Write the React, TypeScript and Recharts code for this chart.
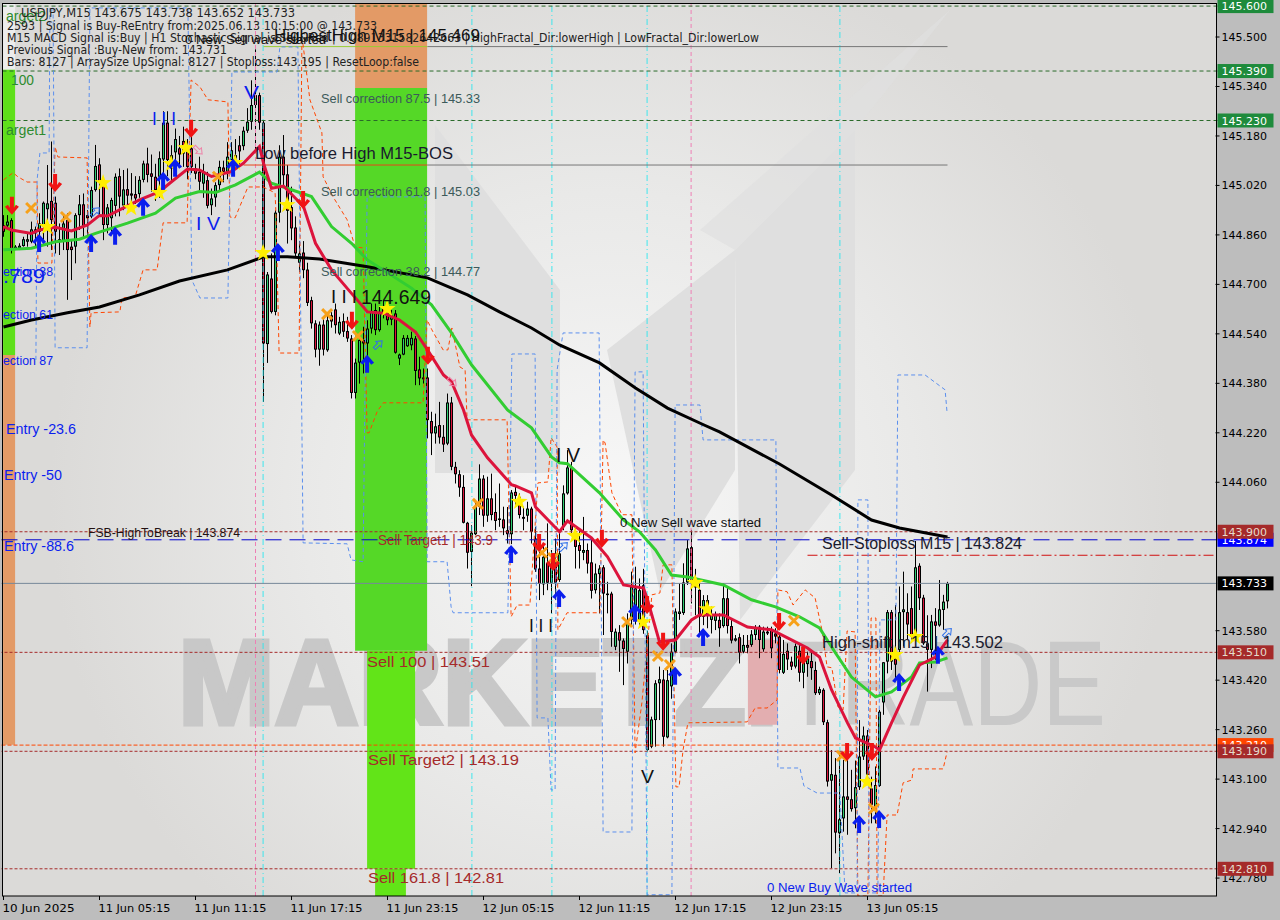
import React from "react";
import {
  ComposedChart,
  Bar,
  Line,
  Scatter,
  XAxis,
  YAxis,
  ReferenceArea,
  ReferenceLine,
} from "recharts";

// USDJPY M15 candles
const opens = [
  144.892,144.890,144.908,144.814,144.817,144.824,144.838,144.838,144.878,144.870,
  144.887,144.943,144.970,144.964,144.838,144.838,144.908,144.822,144.822,144.924,
  144.959,144.924,144.919,145.005,145.088,145.032,144.892,144.914,144.954,145.050,
  144.955,145.008,144.994,144.992,144.992,145.038,145.091,145.059,145.048,145.048,
  145.104,145.223,145.075,145.127,145.140,145.164,145.130,145.140,145.075,145.064,
  145.026,145.037,144.956,144.981,145.021,145.078,145.064,145.102,145.118,145.150,
  145.147,145.197,145.226,145.280,145.312,145.223,144.507,144.719,144.611,144.932,
  145.113,145.056,144.950,144.884,144.770,144.803,144.748,144.649,144.574,144.489,
  144.570,144.487,144.600,144.619,144.541,144.581,144.549,144.525,144.349,144.447,
  144.520,144.509,144.557,144.617,144.552,144.627,144.622,144.586,144.606,144.460,
  144.473,144.500,144.503,144.525,144.425,144.399,144.399,144.258,144.218,144.245,
  144.207,144.185,144.318,144.110,144.086,144.045,143.929,143.835,143.892,143.981,
  144.072,143.952,144.008,143.964,143.943,143.940,143.905,143.892,144.029,144.013,
  143.942,143.952,143.975,143.878,143.781,143.730,143.800,143.735,143.797,143.744,
  143.916,144.024,144.108,143.900,143.857,143.832,143.841,143.801,143.711,143.763,
  143.785,143.700,143.700,143.528,143.575,143.548,143.512,143.615,143.620,143.614,
  143.727,143.566,143.205,143.291,143.410,143.422,143.235,143.400,143.512,143.634,
  143.637,143.736,143.850,143.735,143.712,143.625,143.679,143.615,143.612,143.615,
  143.595,143.685,143.595,143.548,143.559,143.512,143.534,143.534,143.566,143.593,
  143.520,143.577,143.584,143.571,143.561,143.444,143.515,143.480,143.464,143.515,
  143.444,143.472,143.482,143.453,143.378,143.389,143.284,143.095,143.114,142.925,
  142.973,143.044,143.035,143.006,143.074,143.173,143.241,143.070,143.011,143.078,
  143.348,143.480,143.640,143.490,143.518,143.640,143.640,143.653,143.561,143.790,
  143.687,143.539,143.518,143.610,143.597,143.647,143.675,
];
const highs = [
  144.924,144.924,144.914,144.827,144.833,144.854,144.865,144.903,144.887,144.930,
  144.968,145.086,145.162,144.984,144.897,144.930,144.930,144.843,144.930,144.989,
  144.994,144.940,145.016,145.151,145.108,145.043,144.960,144.980,145.059,145.075,
  145.070,145.075,145.060,145.050,145.050,145.100,145.142,145.120,145.090,145.130,
  145.260,145.260,145.150,145.204,145.180,145.210,145.170,145.200,145.090,145.113,
  145.090,145.064,145.010,145.030,145.100,145.100,145.160,145.160,145.170,145.180,
  145.210,145.270,145.360,145.460,145.320,145.230,144.740,144.800,144.940,145.150,
  145.183,145.086,145.016,144.920,144.840,144.840,144.770,144.660,144.584,144.580,
  144.590,144.606,144.610,144.638,144.595,144.606,144.595,144.536,144.460,144.530,
  144.563,144.584,144.638,144.638,144.627,144.649,144.638,144.617,144.617,144.476,
  144.536,144.536,144.547,144.533,144.466,144.428,144.428,144.288,144.282,144.320,
  144.245,144.347,144.336,144.126,144.099,144.083,143.932,143.921,144.002,144.118,
  144.083,144.078,144.088,144.024,144.056,143.981,143.980,144.035,144.045,144.024,
  143.981,143.997,143.981,143.916,143.862,143.862,143.927,143.841,143.878,143.905,
  144.050,144.164,144.126,143.921,143.905,143.948,143.862,143.873,143.797,143.792,
  143.792,143.738,143.706,143.587,143.598,143.555,143.636,143.771,143.787,143.749,
  143.780,143.580,143.302,143.420,143.464,143.453,143.453,143.539,143.652,143.733,
  143.798,143.873,143.906,143.780,143.733,143.695,143.695,143.658,143.642,143.636,
  143.733,143.722,143.615,143.566,143.571,143.566,143.566,143.582,143.598,143.598,
  143.593,143.593,143.593,143.588,143.571,143.550,143.539,143.496,143.539,143.534,
  143.518,143.512,143.518,143.480,143.399,143.394,143.292,143.194,143.168,143.189,
  143.162,143.173,143.130,143.160,143.291,143.270,143.259,143.108,143.141,143.324,
  143.478,143.647,143.647,143.663,143.723,143.771,143.701,143.723,143.870,143.798,
  143.696,143.630,143.631,143.653,143.744,143.696,143.738,
];
const lows = [
  144.854,144.881,144.800,144.811,144.811,144.822,144.822,144.833,144.822,144.811,
  144.843,144.822,144.811,144.800,144.795,144.811,144.650,144.714,144.768,144.876,
  144.849,144.860,144.914,145.000,144.919,144.843,144.865,144.860,144.920,144.920,
  144.940,144.951,144.960,144.960,144.980,145.030,145.030,145.000,144.970,144.980,
  145.030,145.050,145.030,145.086,145.080,145.080,145.040,145.060,145.040,145.000,
  144.980,144.946,144.924,144.951,145.000,145.030,145.040,145.060,145.080,145.090,
  145.134,145.190,145.200,145.130,145.200,144.320,144.446,144.606,144.600,144.900,
  145.016,144.832,144.843,144.790,144.740,144.720,144.630,144.557,144.464,144.437,
  144.470,144.482,144.560,144.541,144.536,144.530,144.514,144.331,144.331,144.379,
  144.412,144.433,144.541,144.536,144.547,144.590,144.568,144.568,144.476,144.439,
  144.471,144.498,144.487,144.374,144.374,144.379,144.202,144.148,144.185,144.185,
  144.158,144.180,144.099,144.056,144.013,143.927,143.781,143.724,143.889,143.954,
  143.916,143.932,143.937,143.905,143.916,143.889,143.862,143.860,143.981,143.943,
  143.905,143.932,143.862,143.770,143.679,143.695,143.711,143.636,143.679,143.738,
  143.905,144.020,143.894,143.781,143.781,143.808,143.765,143.684,143.700,143.636,
  143.566,143.636,143.528,143.517,143.447,143.404,143.474,143.598,143.600,143.593,
  143.570,143.190,143.200,143.205,143.291,143.205,143.232,143.360,143.507,143.615,
  143.631,143.728,143.668,143.630,143.561,143.598,143.588,143.571,143.582,143.528,
  143.590,143.571,143.539,143.545,143.474,143.507,143.507,143.528,143.550,143.491,
  143.512,143.566,143.491,143.539,143.442,143.440,143.453,143.453,143.458,143.415,
  143.394,143.431,143.421,143.372,143.372,143.275,143.076,142.812,142.860,142.796,
  142.930,142.920,142.995,142.941,143.065,143.162,143.098,142.957,142.957,143.075,
  143.308,143.442,143.453,143.426,143.507,143.529,143.550,143.540,143.555,143.647,
  143.534,143.383,143.459,143.486,143.593,143.583,143.652,
];
const closes = [
  144.870,144.903,144.811,144.822,144.825,144.846,144.846,144.878,144.865,144.897,
  144.964,144.962,144.908,144.870,144.846,144.897,144.811,144.811,144.924,144.959,
  144.887,144.914,145.005,145.083,145.032,144.892,144.949,144.973,145.048,144.984,
  145.007,144.987,144.987,144.978,145.038,145.091,145.054,145.048,145.005,145.108,
  145.223,145.102,145.118,145.170,145.120,145.123,145.080,145.080,145.058,145.032,
  145.064,144.954,144.978,145.021,145.080,145.064,145.113,145.134,145.107,145.130,
  145.197,145.226,145.280,145.312,145.223,144.509,144.732,144.611,144.932,145.113,
  145.053,144.938,144.881,144.800,144.800,144.746,144.640,144.574,144.489,144.570,
  144.489,144.584,144.580,144.568,144.579,144.547,144.525,144.349,144.447,144.520,
  144.509,144.557,144.611,144.552,144.611,144.606,144.584,144.600,144.479,144.473,
  144.527,144.527,144.527,144.420,144.396,144.393,144.261,144.218,144.241,144.205,
  144.182,144.318,144.110,144.086,144.043,143.929,143.832,143.897,143.981,144.072,
  143.952,144.008,143.954,143.935,143.938,143.911,143.892,144.027,144.016,143.954,
  143.948,143.975,143.900,143.778,143.731,143.819,143.735,143.787,143.735,143.830,
  144.024,144.108,143.905,143.851,143.838,143.841,143.797,143.709,143.765,143.781,
  143.700,143.698,143.576,143.577,143.548,143.521,143.615,143.722,143.717,143.711,
  143.582,143.194,143.293,143.410,143.423,143.237,143.420,143.512,143.642,143.642,
  143.736,143.846,143.735,143.720,143.625,143.679,143.628,143.631,143.631,143.588,
  143.685,143.595,143.548,143.555,143.509,143.534,143.525,143.568,143.591,143.550,
  143.577,143.571,143.523,143.561,143.453,143.505,143.487,143.464,143.530,143.444,
  143.485,143.491,143.459,143.378,143.391,143.284,143.092,143.116,142.927,142.970,
  143.044,143.033,143.003,143.074,143.173,143.241,143.114,143.017,143.081,143.318,
  143.478,143.640,143.480,143.470,143.640,143.649,143.600,143.561,143.785,143.685,
  143.539,143.518,143.610,143.596,143.649,143.674,143.733,
];

// moving averages, sampled where they bend
const redBars = [0,2,7,9,13,17,21,24,26,29,34,39,42,46,49,52,57,60,64,65,67,70,75,78,82,87,91,95,99,103,106,110,112,115,117,121,127,128,132,133,139,141,147,151,155,160,161,164,168,172,174,178,180,186,192,196,201,204,207,211,213,218,219,222,225,229,233,236];
const redPrices = [144.887,144.876,144.865,144.876,144.885,144.873,144.892,144.923,144.921,144.941,144.973,145.000,145.032,145.073,145.070,145.049,145.065,145.092,145.146,145.092,145.011,145.018,144.952,144.833,144.747,144.671,144.611,144.607,144.585,144.546,144.488,144.407,144.385,144.294,144.213,144.139,144.052,144.048,144.026,143.980,143.900,143.935,143.880,143.819,143.728,143.718,143.680,143.544,143.550,143.615,143.631,143.631,143.631,143.592,143.583,143.557,143.524,143.495,143.389,143.282,143.233,143.204,143.194,143.282,143.366,143.469,143.495,143.550];
const greenBars = [0,7,13,19,23,31,38,43,49,53,58,64,67,72,77,82,87,91,102,107,112,117,126,132,137,139,141,149,155,159,163,167,171,180,187,193,199,204,208,212,218,222,227,229,233,236];
const greenPrices = [144.812,144.817,144.838,144.846,144.865,144.898,144.930,144.979,145.000,144.997,145.022,145.063,145.027,145.006,144.984,144.887,144.833,144.779,144.688,144.634,144.543,144.440,144.294,144.236,144.142,144.123,144.120,144.026,143.938,143.900,143.841,143.760,143.754,143.728,143.680,143.657,143.625,143.589,143.508,143.430,143.366,143.382,143.430,143.476,143.479,143.492];
const blackBars = [0,7,16,24,34,44,56,65,71,79,91,106,116,124,132,139,149,158,166,175,179,194,207,217,224,236];
const blackPrices = [144.562,144.585,144.608,144.627,144.666,144.711,144.747,144.789,144.789,144.782,144.757,144.721,144.666,144.611,144.559,144.504,144.446,144.365,144.300,144.246,144.223,144.119,144.019,143.938,143.912,143.883];

// fractal channels (dashed, stepped)
const blueBars = [8.1,8.4,9.1,11.4,11.6,12.4,12.9,20.9,21.6,46.1,47.1,49.1,56.1,57.1,68.4,69.1,73.6,74.9,85.9,86.9,89.9,90.9,105.4,105.9,110.9,111.9,112.4,126.1,127.1,132.9,133.4,136.1,136.9,137.9,138.4,139.9,148.9,149.9,157.1,157.9,159.9,160.9,167.1,167.9,174.1,174.9,193.1,193.6,199.1,200.1,203.4,209.1,210.4,213.4,213.6,216.1,216.4,218.6,219.1,223.1,223.6,230.4,235.4,235.9];
const bluePrices = [144.456,145.038,145.125,145.125,145.594,145.594,144.495,144.495,145.594,145.594,144.714,144.656,144.656,145.387,145.387,145.468,145.468,143.864,143.861,143.809,143.803,144.983,144.983,143.803,143.803,143.657,143.638,143.638,144.475,144.475,143.298,143.298,143.065,143.065,144.423,144.543,144.543,142.929,142.929,144.417,144.417,142.726,142.726,144.310,144.310,144.197,144.197,143.136,143.136,143.078,143.055,143.055,142.732,142.732,144.003,144.003,142.732,142.732,143.615,143.615,144.407,144.407,144.359,144.284];
const orangeBars = [0,2.4,3.6,5.9,8.4,8.6,12.1,12.9,13.6,20.9,21.1,21.6,21.9,29.1,29.6,32.9,34.9,38.4,39.9,45.9,46.9,49.1,51.1,56.1,56.6,57.9,61.1,64.9,67.9,68.1,68.9,73.9,74.6,74.9,76.6,79.6,79.9,82.4,85.9,87.9,89.9,90.9,91.4,93.4,94.9,104.9,105.9,107.1,109.9,111.1,112.1,114.1,115.4,115.9,125.9,126.9,128.4,131.6,133.6,136.1,136.9,138.4,138.6,140.9,149.1,149.9,150.4,152.1,154.6,157.1,157.9,159.6,162.1,164.1,164.9,167.1,168.1,168.9,169.9,171.1,185.9,187.9,190.9,193.4,193.6,195.9,197.4,200.4,202.9,204.6,205.9,207.1,208.6,209.9,210.9,212.9,213.6,216.1,216.9,218.1,218.4,219.9,220.9,223.4,224.9,227.1,227.4,234.9,235.9];
const orangePrices = [145.038,145.061,145.048,145.031,145.031,144.769,144.769,145.145,145.112,145.109,144.918,144.562,144.608,144.611,144.656,144.660,144.747,144.747,144.899,144.899,145.361,145.339,145.297,145.290,144.918,144.915,145.015,145.015,144.996,144.931,144.478,144.478,145.491,145.474,145.297,145.190,145.048,144.983,144.909,144.821,144.818,144.220,144.220,144.288,144.317,144.317,144.585,144.553,144.488,144.488,144.559,144.433,144.423,144.262,144.262,143.625,143.663,143.663,144.058,144.061,144.204,144.174,143.583,143.638,143.638,144.197,144.187,144.026,143.955,143.955,143.185,143.347,143.696,143.702,143.793,143.793,143.075,143.075,143.195,143.282,143.285,143.330,143.330,143.356,143.712,143.706,143.663,143.712,143.686,143.583,143.463,143.460,143.334,143.324,143.579,143.576,142.722,142.722,143.621,143.621,142.722,142.722,142.984,142.984,143.088,143.097,143.133,143.133,143.188];

// signal markers
const starBars = [10.9,24.9,31.9,38.9,41.9,45.6,57.9,64.9,70.9,95.9,128.9,142.9,159.9,172.9,175.9,222.9,227.9,215.9];
const starPrices = [144.886,145.028,144.947,144.996,145.090,145.141,145.093,144.802,144.957,144.621,143.997,143.887,143.608,143.735,143.650,143.502,143.560,143.091];
const upBars = [8.9,21.9,27.9,34.9,39.9,42.9,57.4,68.6,90.9,126.9,138.9,157.9,167.9,174.9,213.9,218.9,223.9,233.6];
const upPrices = [144.834,144.834,144.857,144.951,145.035,145.077,145.077,144.805,144.443,143.828,143.686,143.638,143.434,143.560,142.955,142.971,143.414,143.502];
const downBars = [2.1,12.9,46.9,74.9,87.1,106.1,133.9,137.4,149.6,160.9,164.9,193.9,199.9,210.9,217.1];
const downPrices = [144.954,145.028,145.203,144.973,144.582,144.469,143.864,143.802,143.877,143.663,143.544,143.608,143.499,143.188,143.188];
const crossBars = [6.9,15.6,53.6,80.9,88.6,118.6,134.6,137.4,155.9,163.6,166.6,197.6,209.6,217.6];
const crossPrices = [144.947,144.918,145.048,144.604,144.533,143.990,143.832,143.815,143.608,143.498,143.469,143.612,143.175,143.004];
const hollowBlueBars = [22.9,93.6,139.9,235.9];
const hollowBluePrices = [144.934,144.504,143.851,143.573];
const hollowPinkBars = [48.6,112.1];
const hollowPinkPrices = [145.135,144.385];

// axis labels
const priceTicks = [145.5,145.34,145.18,145.02,144.86,144.7,144.54,144.38,144.22,144.06,143.58,143.42,143.26,143.1,142.94,142.78];
const timeTicks = [0,24,48,72,96,120,144,168,192,216];
const timeLabels = ["10 Jun 2025","11 Jun 05:15","11 Jun 11:15","11 Jun 17:15","11 Jun 23:15","12 Jun 05:15","12 Jun 11:15","12 Jun 17:15","12 Jun 23:15","13 Jun 05:15"];
const tagPrices = [145.6,145.39,145.23,143.874,143.9,143.733,143.51,143.21,143.19,142.81];
const tagColors = ["#1e8b3c","#1e8b3c","#1e8b3c","#0000ff","#a52a2a","#000000","#a52a2a","#ff4500","#a52a2a","#a52a2a"];
const cyanLines = [64.9,117.1,137.1,160.9,209.1];
const pinkLines = [63,171.9];

const candles = opens.map((open, i) => ({
  bar: i,
  open,
  close: closes[i],
  high: highs[i],
  low: lows[i],
  range: [lows[i], highs[i]],
}));
const zip = (bars: number[], prices: number[]) => bars.map((bar, k) => ({ bar, price: prices[k] }));

const UI_FONT = "'DejaVu Sans', sans-serif";
const ARIAL = "'Liberation Sans', Arial, sans-serif";

function Candle(props: any) {
  const { x, y, width, height, payload } = props;
  if (!payload || !height) return null;
  const cx = Math.floor(x + width / 2) + 0.5;
  const perPrice = height / (payload.high - payload.low);
  const top = y + (payload.high - Math.max(payload.open, payload.close)) * perPrice;
  const bottom = y + (payload.high - Math.min(payload.open, payload.close)) * perPrice;
  const up = payload.close >= payload.open;
  return (
    <g>
      <line x1={cx} x2={cx} y1={y} y2={y + height} stroke="#000" strokeWidth={1} />
      <rect x={cx - 1.5} y={top} width={3} height={Math.max(bottom - top, 1.5)} fill="#000" />
      {bottom - top > 2 && (
        <rect x={cx - 0.5} y={top + 1} width={1} height={bottom - top - 2} fill={up ? "#2ecc71" : "#dc143c"} />
      )}
    </g>
  );
}

function UpArrow({ cx, cy }: any) {
  return <path transform={`translate(${cx},${cy})`} d="M0,-9 L7,-1 L4,1 L2,-2 L2,9 L-2,9 L-2,-2 L-4,1 L-7,-1 Z" fill="#0a1eee" />;
}
function DownArrow({ cx, cy }: any) {
  return <path transform={`translate(${cx},${cy})`} d="M0,9 L7,1 L4,-1 L2,2 L2,-9 L-2,-9 L-2,2 L-4,-1 L-7,1 Z" fill="#f01414" />;
}
function Star({ cx, cy }: any) {
  const pts = [];
  for (let k = 0; k < 10; k++) {
    const r = k % 2 ? 3.6 : 9;
    const a = (Math.PI / 5) * k - Math.PI / 2;
    pts.push(`${cx + r * Math.cos(a)},${cy + r * Math.sin(a)}`);
  }
  return <polygon points={pts.join(" ")} fill="#ffee00" />;
}
function Cross({ cx, cy }: any) {
  return (
    <path
      d={`M${cx - 5},${cy - 5} L${cx + 5},${cy + 5} M${cx + 5},${cy - 5} L${cx - 5},${cy + 5}`}
      stroke="#f7a11a"
      strokeWidth={3}
    />
  );
}
function HollowBlue({ cx, cy }: any) {
  return <path transform={`translate(${cx},${cy}) rotate(45)`} d="M0,-6 L4,-1 L1.5,-1 L1.5,5 L-1.5,5 L-1.5,-1 L-4,-1 Z" fill="none" stroke="#2f6fe8" />;
}
function HollowPink({ cx, cy }: any) {
  return <path transform={`translate(${cx},${cy}) rotate(135)`} d="M0,-6 L4,-1 L1.5,-1 L1.5,5 L-1.5,5 L-1.5,-1 L-4,-1 Z" fill="none" stroke="#ee82a8" />;
}

function TimeTick({ x, y, payload }: any) {
  const label = timeLabels[timeTicks.indexOf(payload.value)];
  return (
    <g>
      <line x1={x} x2={x} y1={y - 8} y2={y - 4} stroke="#000" />
      <text x={x - 1} y={y + 8} fontFamily={UI_FONT} fontSize={11} fill="#000" textLength={72} lengthAdjust="spacingAndGlyphs">
        {label}
      </text>
    </g>
  );
}

function PriceTick({ x, y, payload }: any) {
  const k = tagPrices.indexOf(payload.value);
  if (k >= 0) {
    return (
      <g>
        <rect x={x - 8} y={y - 7} width={56} height={14} fill={tagColors[k]} />
        <text x={x - 4} y={y + 4} fontFamily={UI_FONT} fontSize={11} fill={tagColors[k] === "#a52a2a" ? "#e4dccc" : "#fff"}>
          {payload.value.toFixed(3)}
        </text>
      </g>
    );
  }
  return (
    <g>
      <line x1={x - 10} x2={x - 6} y1={y} y2={y} stroke="#000" />
      <text x={x - 4} y={y + 4} fontFamily={UI_FONT} fontSize={11} fill="#000">
        {payload.value.toFixed(3)}
      </text>
    </g>
  );
}

// plain text notes the indicator writes on the chart
const Note = ({ x, y, w, size = 13, color = "#111", font = ARIAL, children }: any) => (
  <text x={x} y={y} fontSize={size} fill={color} fontFamily={font} textLength={w} lengthAdjust="spacingAndGlyphs">
    {children}
  </text>
);

function Backdrop() {
  return (
    <svg width={1280} height={920} style={{ position: "absolute", left: 0, top: 0 }}>
      <defs>
        <radialGradient id="plotBg" gradientUnits="userSpaceOnUse" cx={610} cy={500} r={560}>
          <stop offset="0" stopColor="#f7f7f7" />
          <stop offset="0.55" stopColor="#e9e9e8" />
          <stop offset="1" stopColor="#dbdad8" />
        </radialGradient>
      </defs>
      <rect width={1280} height={920} fill="#bdbdbd" />
      <rect x={2} y={3} width={1214} height={893} fill="url(#plotBg)" />
      <g fill="#dfdfdf">
        <polygon points="435,125 560,290 560,473 435,473" />
        <polygon points="607,350 735,250 735,470 660,592" />
        <polygon points="735,250 855,130 855,470 740,620" />
        <polygon points="700,230 950,10 855,130 735,250" opacity={0.7} />
      </g>
      <text x={178} y={724} fontFamily={ARIAL} fontWeight={700} fontSize={121} fill="#c8c8c8" stroke="#c8c8c8" strokeWidth={5} textLength={600} lengthAdjust="spacingAndGlyphs">
        MARKETZI
      </text>
      <text x={782} y={725} fontFamily={ARIAL} fontSize={121} fill="#c9c9c9" textLength={324} lengthAdjust="spacingAndGlyphs">
        TRADE
      </text>
    </svg>
  );
}

function Notes() {
  return (
    <svg width={1280} height={920} style={{ position: "absolute", left: 0, top: 0, pointerEvents: "none" }}>
      <rect x={2.5} y={3.5} width={1214} height={892.5} fill="none" stroke="#000" />
      <Note x={6} y={21} w={40} size={14} color="#2e8b2e">arget2</Note>
      <Note x={21} y={17} w={274} size={12} color="#222" font={UI_FONT}>USDJPY,M15  143.675 143.738 143.652 143.733</Note>
      <Note x={7} y={30} w={370} size={12} color="#222" font={UI_FONT}>2593 | Signal is Buy-ReEntry from:2025.06.13 10:15:00 @ 143.733</Note>
      <Note x={7} y={42} w={752} size={12} color="#222" font={UI_FONT}>M15 MACD Signal is:Buy | H1 Stochastic Signal is:Sell&amp;Red | 0.0891331582642663 | HighFractal_Dir:lowerHigh | LowFractal_Dir:lowerLow</Note>
      <Note x={7} y={54} w={220} size={12} color="#222" font={UI_FONT}>Previous Signal :Buy-New from: 143.731</Note>
      <Note x={7} y={66} w={412} size={12} color="#222" font={UI_FONT}>Bars: 8127 | ArraySize UpSignal: 8127 | Stoploss:143.195 | ResetLoop:false</Note>
      <Note x={274} y={41} w={206} size={17}>HighestHigh   M15 | 145.469</Note>
      <Note x={185} y={44} w={141} size={13}>0 New Sell wave started</Note>
      <Note x={11} y={85} w={23} size={14} color="#2e8b2e">100</Note>
      <Note x={6} y={135} w={40} size={14} color="#2e8b2e">arget1</Note>
      <Note x={321} y={103} w={159} size={13} color="#3c5a5a">Sell correction 87.5 | 145.33</Note>
      <Note x={321} y={196} w={159} size={13} color="#3c5a5a">Sell correction 61.8 | 145.03</Note>
      <Note x={321} y={276} w={159} size={13} color="#3c5a5a">Sell correction 38.2 | 144.77</Note>
      <Note x={255} y={159} w={198} size={16} color="#1a1a2e">Low before High   M15-BOS</Note>
      <Note x={152} y={125} w={24} size={18} color="#0a1eee">I I I</Note>
      <Note x={244} y={99} w={15} size={18} color="#0a1eee">V</Note>
      <Note x={196} y={230} w={24} size={18} color="#0a1eee">I V</Note>
      <Note x={3} y={276} w={50} size={13} color="#0a1eee">ection 38</Note>
      <Note x={3} y={283} w={42} size={21} color="#0a1eee">.789</Note>
      <Note x={3} y={319} w={50} size={13} color="#0a1eee">ection 61</Note>
      <Note x={3} y={365} w={50} size={13} color="#0a1eee">ection 87</Note>
      <Note x={6} y={434} w={70} size={14} color="#0a1eee">Entry -23.6</Note>
      <Note x={4} y={480} w={58} size={14} color="#0a1eee">Entry -50</Note>
      <Note x={4} y={551} w={70} size={14} color="#0a1eee">Entry -88.6</Note>
      <Note x={88} y={537} w={152} size={12} color="#221111">FSB-HighToBreak | 143.874</Note>
      <Note x={331} y={303} w={26} size={18}>I I I</Note>
      <Note x={361} y={304} w={70} size={20}>144.649</Note>
      <Note x={378} y={545} w={115} size={15} color="#a52a2a">Sell Target1 | 143.9</Note>
      <Note x={556} y={462} w={24} size={20}>I V</Note>
      <Note x={620} y={527} w={141} size={13}>0 New Sell wave started</Note>
      <Note x={529} y={632} w={24} size={18}>I I I</Note>
      <Note x={641} y={783} w={13} size={18}>V</Note>
      <Note x={822} y={549} w={200} size={16} color="#1a1a2e">Sell-Stoploss M15 | 143.824</Note>
      <Note x={822} y={648} w={181} size={16} color="#1a1a2e">High-shift m15 | 143.502</Note>
      <Note x={367} y={667} w={123} size={15} color="#a52a2a">Sell 100 | 143.51</Note>
      <Note x={368} y={765} w={151} size={15} color="#a52a2a">Sell Target2 | 143.19</Note>
      <Note x={368} y={883} w={136} size={15} color="#a52a2a">Sell 161.8 | 142.81</Note>
      <Note x={767} y={892} w={145} size={13} color="#0a1eee">0 New Buy Wave started</Note>
    </svg>
  );
}

const seriesProps = { type: "linear" as const, dataKey: "price", dot: false, activeDot: false, legendType: "none" as const, isAnimationActive: false };

export default function App() {
  return (
    <div style={{ position: "absolute", left: 0, top: 0, width: 1280, height: 920, overflow: "hidden" }}>
      <Backdrop />
      <div style={{ position: "absolute", left: 0, top: 0 }}>
        <ComposedChart width={1280} height={920} data={candles} margin={{ top: 3, right: 0, bottom: 0, left: 1.5 }}>
          <XAxis
            type="number"
            dataKey="bar"
            domain={[-0.5, 303.5]}
            ticks={timeTicks}
            interval={0}
            height={24}
            allowDataOverflow
            tickLine={false}
            axisLine={false}
            tick={<TimeTick />}
          />
          <YAxis
            orientation="right"
            width={62.5}
            domain={[142.722, 145.61]}
            ticks={[...priceTicks, ...tagPrices]}
            interval={0}
            allowDataOverflow
            tickLine={false}
            axisLine={false}
            tick={<PriceTick />}
          />

          {/* fibonacci bands */}
          <ReferenceArea x1={-0.1} x2={2.9} y1={145.394} y2={145.61} fill="#ececec" fillOpacity={1} stroke="none" />
          <ReferenceArea x1={-0.1} x2={2.9} y1={144.472} y2={145.394} fill="#5fe01a" fillOpacity={1} stroke="none" />
          <ReferenceArea x1={-0.1} x2={2.9} y1={143.211} y2={144.472} fill="#e39a66" fillOpacity={1} stroke="none" />
          <ReferenceArea x1={87.9} x2={105.9} y1={145.335} y2={145.61} fill="#e39a66" fillOpacity={1} stroke="none" />
          <ReferenceArea x1={87.9} x2={105.9} y1={143.515} y2={145.335} fill="#55d827" fillOpacity={1} stroke="none" />
          <ReferenceArea x1={90.9} x2={102.9} y1={142.81} y2={143.515} fill="#62e418" fillOpacity={1} stroke="none" />
          <ReferenceArea x1={92.9} x2={100.6} y1={142.722} y2={142.81} fill="#62e418" fillOpacity={1} stroke="none" />
          <ReferenceArea x1={186.1} x2={193.6} y1={143.276} y2={143.55} fill="#e3aeb0" fillOpacity={1} stroke="none" />

          {cyanLines.map((b) => (
            <ReferenceLine key={`c${b}`} x={b} stroke="#22e6ee" strokeOpacity={0.85} strokeDasharray="6 3 1 3" />
          ))}
          {pinkLines.map((b) => (
            <ReferenceLine key={`p${b}`} x={b} stroke="#ee7fb4" strokeDasharray="4 3" />
          ))}

          <ReferenceLine y={145.6} stroke="#2a6a2a" strokeDasharray="4 3" />
          <ReferenceLine y={145.39} stroke="#2a6a2a" strokeDasharray="4 3" />
          <ReferenceLine y={145.23} stroke="#2a6a2a" strokeDasharray="4 3" />
          <ReferenceLine y={143.9} stroke="#a52a2a" strokeDasharray="3 2" />
          <ReferenceLine y={143.874} stroke="#0000cd" strokeDasharray="16 8" />
          <ReferenceLine y={143.733} stroke="#778899" />
          <ReferenceLine y={143.51} stroke="#a52a2a" strokeDasharray="3 2" />
          <ReferenceLine y={143.21} stroke="#ff4500" strokeDasharray="4 2" />
          <ReferenceLine y={143.19} stroke="#a52a2a" strokeDasharray="3 2" />
          <ReferenceLine y={142.81} stroke="#a52a2a" strokeDasharray="3 2" />

          <Line {...seriesProps} data={zip([65, 106], [145.469, 145.469])} stroke="#9acd32" strokeWidth={1} />
          <Line {...seriesProps} data={zip([106, 236], [145.469, 145.469])} stroke="#777" strokeWidth={1} />
          <Line {...seriesProps} data={zip([60, 106], [145.086, 145.086])} stroke="#e8451a" strokeWidth={1} />
          <Line {...seriesProps} data={zip([106, 236], [145.086, 145.086])} stroke="#777" strokeWidth={1} />
          <Line {...seriesProps} data={zip([201, 303], [143.824, 143.824])} stroke="#d01010" strokeWidth={1} strokeDasharray="10 3 2 3" />

          <Line {...seriesProps} data={zip(orangeBars, orangePrices)} stroke="#ff4500" strokeWidth={1} strokeDasharray="4 3" />
          <Line {...seriesProps} data={zip(blueBars, bluePrices)} stroke="#5b8fee" strokeWidth={1} strokeDasharray="4 3" />

          <Bar dataKey="range" barSize={3} shape={<Candle />} isAnimationActive={false} legendType="none" />

          <Line {...seriesProps} data={zip(blackBars, blackPrices)} stroke="#000" strokeWidth={3} />
          <Line {...seriesProps} data={zip(greenBars, greenPrices)} stroke="#32cd32" strokeWidth={3} />
          <Line {...seriesProps} data={zip(redBars, redPrices)} stroke="#dc143c" strokeWidth={3} />

          <Scatter data={zip(crossBars, crossPrices)} dataKey="price" shape={<Cross />} isAnimationActive={false} legendType="none" />
          <Scatter data={zip(starBars, starPrices)} dataKey="price" shape={<Star />} isAnimationActive={false} legendType="none" />
          <Scatter data={zip(upBars, upPrices)} dataKey="price" shape={<UpArrow />} isAnimationActive={false} legendType="none" />
          <Scatter data={zip(downBars, downPrices)} dataKey="price" shape={<DownArrow />} isAnimationActive={false} legendType="none" />
          <Scatter data={zip(hollowBlueBars, hollowBluePrices)} dataKey="price" shape={<HollowBlue />} isAnimationActive={false} legendType="none" />
          <Scatter data={zip(hollowPinkBars, hollowPinkPrices)} dataKey="price" shape={<HollowPink />} isAnimationActive={false} legendType="none" />
        </ComposedChart>
      </div>
      <Notes />
    </div>
  );
}
